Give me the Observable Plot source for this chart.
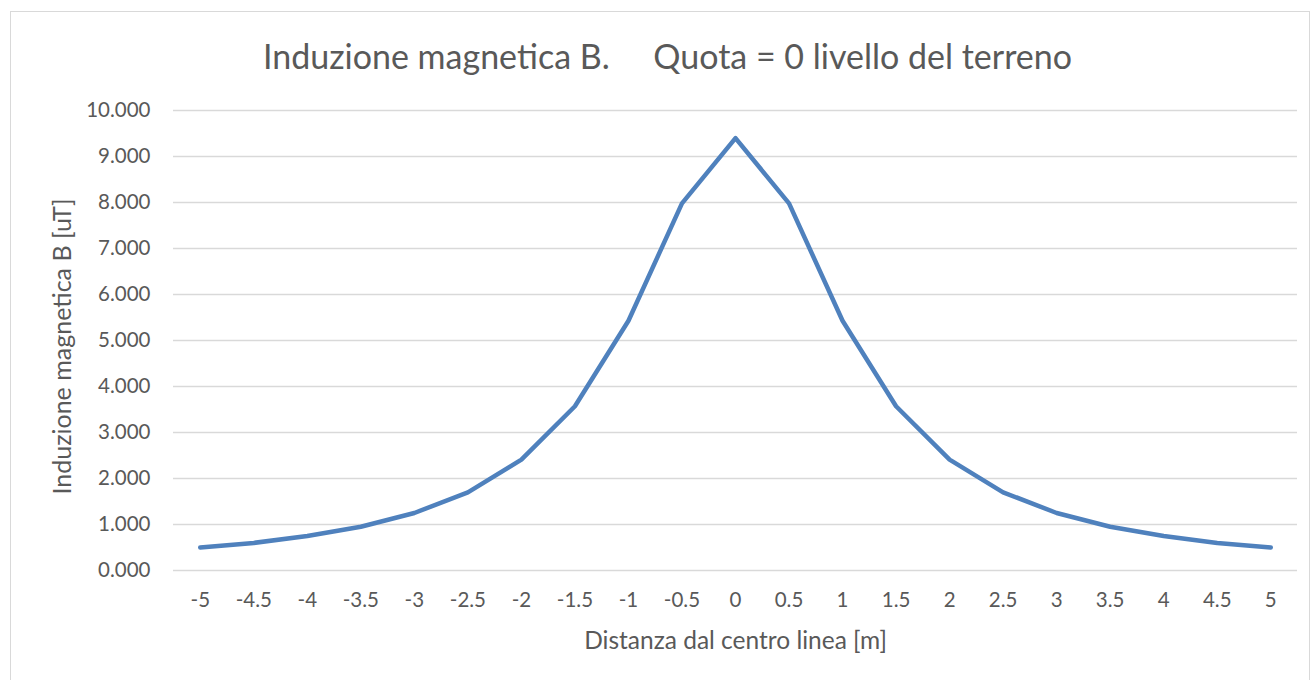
<!DOCTYPE html>
<html>
<head>
<meta charset="utf-8">
<script src="https://cdn.jsdelivr.net/npm/d3@7"></script>
<script src="https://cdn.jsdelivr.net/npm/@observablehq/plot@0.6"></script>
<style>
  html, body { margin: 0; padding: 0; background: #fff; }
  #wrap { position: relative; width: 1312px; height: 680px; overflow: hidden; font-family: Lato, "Open Sans", sans-serif; }
  #frame { position: absolute; left: 10px; top: 11px; width: 1300px; height: 700px; border: 1px solid #d9d9d9; box-sizing: border-box; }
  #title { position: absolute; left: 0; width: 1335px; top: 33px; text-align: center; font-size: 34px; color: #595959; white-space: pre; line-height: 46px; }
  #chart { position: absolute; left: 0; top: 0; }
</style>
</head>
<body>
<div id="wrap">
  <div id="frame"></div>
  <div id="chart"></div>
  <div id="title">Induzione magnetica B.     Quota = 0 livello del terreno</div>
</div>
<script>
const distances = [-5, -4.5, -4, -3.5, -3, -2.5, -2, -1.5, -1, -0.5, 0, 0.5, 1, 1.5, 2, 2.5, 3, 3.5, 4, 4.5, 5];
const inductionB = [0.500, 0.600, 0.750, 0.950, 1.250, 1.700, 2.410, 3.570, 5.430, 7.980, 9.400, 7.980, 5.430, 3.570, 2.410, 1.700, 1.250, 0.950, 0.750, 0.600, 0.500];
const yTicks = [0, 1, 2, 3, 4, 5, 6, 7, 8, 9, 10];
const xLabel = "Distanza dal centro linea [m]";
const yLabel = "Induzione magnetica B [uT]";

const data = distances.map((d, i) => ({x: d, b: inductionB[i]}));
const textColor = "#595959";

const plot = Plot.plot({
  width: 1312,
  height: 680,
  marginLeft: 173,
  marginRight: 15,
  marginTop: 110,
  marginBottom: 110,
  style: {fontFamily: "Lato, 'Open Sans', sans-serif", color: textColor, background: "transparent"},
  x: {domain: [-5.25, 5.25]},
  y: {domain: [0, 10]},
  marks: [
    Plot.gridY(yTicks, {stroke: "#d9d9d9", strokeOpacity: 1, strokeWidth: 1.5}),
    Plot.axisY(yTicks, {tickSize: 0, tickPadding: 23, fontSize: 20.5, fill: textColor, tickFormat: d3.format(".3f"), label: null}),
    Plot.axisX(distances, {tickSize: 0, tickPadding: 22, fontSize: 20.5, fill: textColor, tickFormat: d => String(d), label: null}),
    Plot.line(data, {x: "x", y: "b", stroke: "#4f81bd", strokeWidth: 4.5, strokeLinejoin: "round", strokeLinecap: "round"}),
    Plot.text([xLabel], {frameAnchor: "bottom", dy: 71, lineAnchor: "middle", fontSize: 24.5, fill: textColor}),
    Plot.text([yLabel], {frameAnchor: "left", dx: -111, dy: 6, rotate: -90, textAnchor: "middle", lineAnchor: "middle", fontSize: 25, fill: textColor})
  ]
});
document.getElementById("chart").appendChild(plot);
</script>
</body>
</html>
